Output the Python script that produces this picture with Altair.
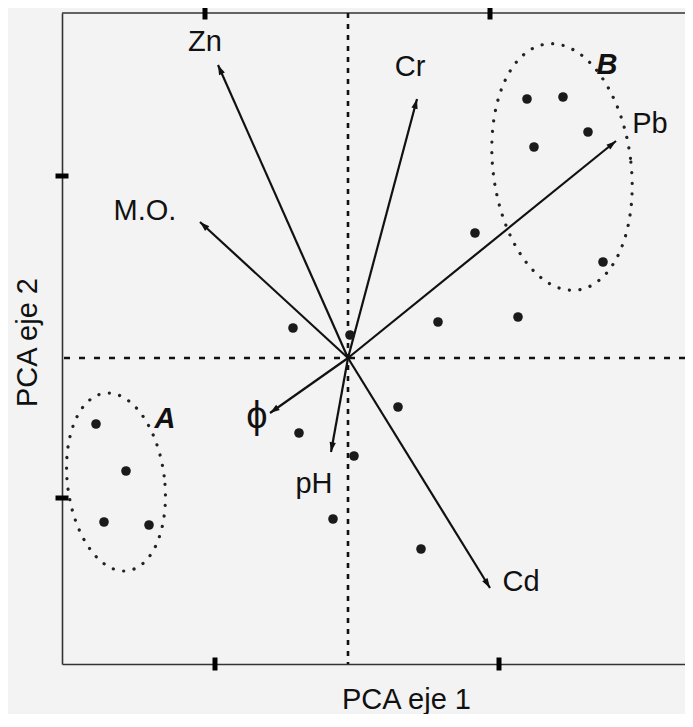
import altair as alt
import pandas as pd
import numpy as np

# ---- data (PCA scores) ----
XMIN, XMAX = -2.86, 3.37
YMIN, YMAX = -3.06, 3.45

pt_x = [1.79, 2.15, 2.40, 1.86, 2.55,
        1.27, 0.90, 1.70, 0.02, -0.55, -0.49, -0.15, 0.50, 0.06, 0.73,
        -2.52, -2.22, -2.44, -1.99]
pt_y = [2.59, 2.61, 2.26, 2.11, 0.96,
        1.25, 0.36, 0.41, 0.23, 0.30, -0.75, -1.61, -0.49, -0.98, -1.91,
        -0.66, -1.13, -1.64, -1.67]

var_names = ["Zn", "M.O.", "Cr", "Pb", "ϕ", "pH", "Cd"]
var_x = [-1.30, -1.48, 0.69, 2.68, -0.78, -0.17, 1.42]
var_y = [2.93, 1.36, 2.59, 2.17, -0.55, -0.94, -2.30]
lab_x = [-1.43, -2.03, 0.62, 3.02, -0.91, -0.34, 1.73]
lab_y = [3.16, 1.47, 2.91, 2.34, -0.59, -1.26, -2.24]

group_names = ["A", "B"]
group_lab_x = [-1.83, 2.59]
group_lab_y = [-0.61, 2.93]
ell_cx = [-2.32, 2.14]
ell_cy = [-1.24, 1.91]
ell_a = [0.485, 0.69]
ell_b = [0.895, 1.24]
ell_tilt = [7.3, 7.2]

xtick_top = [-1.43, 1.42]
xtick_bottom = [-1.33, 1.51]
ytick_left = [1.82, -1.40]

FONT = "Liberation Sans"
INK = "#111111"

# ---- tables ----
pts = pd.DataFrame({"x": pt_x, "y": pt_y})
vars_df = pd.DataFrame({"name": var_names, "vx": var_x, "vy": var_y,
                        "lx": lab_x, "ly": lab_y})
vars_df["x0"] = 0.0
vars_df["y0"] = 0.0
vars_df["ang"] = np.mod(np.degrees(np.arctan2(vars_df["vx"], vars_df["vy"])), 360)
groups = pd.DataFrame({"name": group_names, "x": group_lab_x, "y": group_lab_y})

rows = []
t = np.linspace(0, 2 * np.pi, 181)
for g, cx, cy, a, b, th in zip(group_names, ell_cx, ell_cy, ell_a, ell_b, ell_tilt):
    r = np.radians(th)
    ux, uy = np.cos(r), np.sin(r)
    vx, vy = -np.sin(r), np.cos(r)
    for i, tt in enumerate(t):
        rows.append({"g": g, "i": i,
                     "x": cx + a * np.cos(tt) * ux + b * np.sin(tt) * vx,
                     "y": cy + a * np.cos(tt) * uy + b * np.sin(tt) * vy})
ell = pd.DataFrame(rows)

xs = alt.Scale(domain=[XMIN, XMAX], nice=False, zero=False)
ys = alt.Scale(domain=[YMIN, YMAX], nice=False, zero=False)
xax = alt.Axis(title="PCA eje 1", domain=True, domainColor="#333333", domainWidth=1.6,
               ticks=False, labels=False, grid=False, titleFont=FONT, titleFontSize=29,
               titleFontWeight="normal", titleColor=INK, titleX=344, titleY=44,
               titleBaseline="alphabetic", titleAlign="center")
yax = alt.Axis(title="PCA eje 2", domain=True, domainColor="#333333", domainWidth=1.6,
               ticks=False, labels=False, grid=False, titleFont=FONT, titleFontSize=29,
               titleFontWeight="normal", titleColor=INK, titleX=-26, titleY=329,
               titleBaseline="alphabetic", titleAlign="center", titleAngle=270)


def X(f):
    return alt.X(f, type="quantitative", scale=xs, axis=xax)


def Y(f):
    return alt.Y(f, type="quantitative", scale=ys, axis=yax)


top_line = alt.Chart(pd.DataFrame({"y": [YMAX]})).mark_rule(
    color="#333333", strokeWidth=1.6).encode(y=Y("y"))

vzero = alt.Chart(pd.DataFrame({"x": [0.0]})).mark_rule(
    color=INK, strokeWidth=2.6, strokeDash=[5, 6]).encode(x=X("x"))
hzero = alt.Chart(pd.DataFrame({"y": [0.0]})).mark_rule(
    color=INK, strokeWidth=2.6, strokeDash=[6, 9]).encode(y=Y("y"))

ellipses = alt.Chart(ell).mark_line(
    color="#222222", strokeWidth=3.2, strokeDash=[0.1, 10.5], strokeCap="round").encode(
    x=X("x"), y=Y("y"), detail="g:N", order=alt.Order("i:Q"))

dots = alt.Chart(pts).mark_circle(size=92, color="#1a1a1a", opacity=1).encode(
    x=X("x"), y=Y("y"))

arrows = alt.Chart(vars_df).mark_rule(color=INK, strokeWidth=2.2).encode(
    x=X("x0"), y=Y("y0"), x2="vx", y2="vy")

heads = alt.Chart(vars_df).mark_point(
    shape="M0,0L0.65,2L-0.65,2Z", filled=True, size=95, color=INK, opacity=1,
    strokeWidth=0).encode(x=X("vx"), y=Y("vy"), angle=alt.Angle("ang:Q", scale=None))

labels = alt.Chart(vars_df).transform_filter(alt.datum.name != "ϕ").mark_text(
    font=FONT, fontSize=29, color=INK, align="center", baseline="middle").encode(
    x=X("lx"), y=Y("ly"), text="name:N")

phi_label = alt.Chart(vars_df).transform_filter(alt.datum.name == "ϕ").mark_text(
    font=FONT, fontSize=38, color=INK, align="center", baseline="middle").encode(
    x=X("lx"), y=Y("ly"), text="name:N")

glabels = alt.Chart(groups).mark_text(
    font=FONT, fontSize=29, fontWeight="bold", fontStyle="italic", color=INK,
    align="center", baseline="middle").encode(x=X("x"), y=Y("y"), text="name:N")

top_ticks = alt.Chart(pd.DataFrame({"x": xtick_top, "y": [YMAX] * len(xtick_top)})).mark_tick(
    orient="vertical", thickness=5, size=13, color="black", opacity=1).encode(x=X("x"), y=Y("y"))
bottom_ticks = alt.Chart(pd.DataFrame({"x": xtick_bottom, "y": [YMIN] * len(xtick_bottom)})).mark_tick(
    orient="vertical", thickness=5, size=13, color="black", opacity=1).encode(x=X("x"), y=Y("y"))
left_ticks = alt.Chart(pd.DataFrame({"x": [XMIN] * len(ytick_left), "y": ytick_left})).mark_tick(
    orient="horizontal", thickness=5, size=13, color="black", opacity=1).encode(x=X("x"), y=Y("y"))

chart = alt.layer(
    top_line, vzero, hzero, ellipses, arrows, heads, dots, labels, phi_label, glabels,
    top_ticks, bottom_ticks, left_ticks
).properties(
    width=623, height=651,
    autosize=alt.AutoSizeParams(type="none"),
    padding={"left": 54, "top": 5, "right": 0, "bottom": 50},
    background="#f3f3f3",
).configure_view(stroke=None)

chart.save("out.html", embed_options={"renderer": "svg", "actions": False})
